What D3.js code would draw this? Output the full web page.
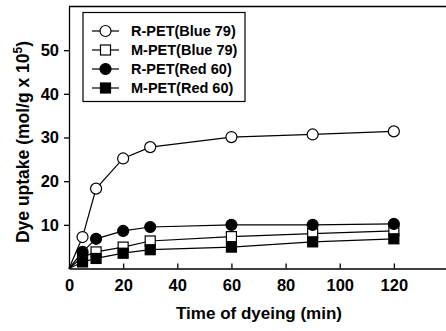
<!DOCTYPE html>
<html><head><meta charset="utf-8">
<script src="https://cdn.jsdelivr.net/npm/d3@7"></script>
<style>body{margin:0;background:#fff}svg{display:block}</style>
</head><body>
<svg id="c" width="446" height="331"></svg>
<script>
const times = [0, 5, 10, 20, 30, 60, 90, 120];
const rPetBlue = [0, 7.2, 18.3, 25.2, 27.8, 30.1, 30.7, 31.4];
const mPetBlue = [0, 2.6, 3.8, 4.9, 6.3, 7.3, 8.0, 8.6];
const rPetRed  = [0, 3.8, 6.8, 8.6, 9.5, 10.0, 10.0, 10.2];
const mPetRed  = [0, 1.5, 2.3, 3.5, 4.3, 4.9, 6.1, 6.8];
const seriesNames = ["R-PET(Blue 79)", "M-PET(Blue 79)", "R-PET(Red 60)", "M-PET(Red 60)"];
const seriesShapes = ["circle", "square", "circle", "square"];
const seriesFilled = [false, false, true, true];
const xTicks = [0, 20, 40, 60, 80, 100, 120];
const yTicks = [10, 20, 30, 40, 50];

const series = [rPetBlue, mPetBlue, rPetRed, mPetRed];
const svg = d3.select("#c");
const L = 69, T = 6.5, B = 268.5, R = 448;
const x = d3.scaleLinear().domain([0, 140]).range([L, R]);
const y = d3.scaleLinear().domain([0, 60]).range([B, T]);
const font = "'Liberation Sans', Arial, sans-serif";

// frame
svg.append("line").attr("x1", L).attr("x2", R).attr("y1", T).attr("y2", T).attr("stroke", "#000").attr("stroke-width", 1.3);
// axes
const xAxis = d3.axisBottom(x).tickValues(xTicks).tickSizeInner(-5).tickSizeOuter(0).tickPadding(11);
const gx = svg.append("g").attr("transform", `translate(0,${B})`).call(xAxis);
const yAxis = d3.axisLeft(y).tickValues(yTicks).tickSizeInner(5).tickSizeOuter(0).tickPadding(5);
const gy = svg.append("g").attr("transform", `translate(${L},0)`).call(yAxis);
[gx, gy].forEach(g => {
  g.select(".domain").attr("stroke", "#000").attr("stroke-width", 1.3);
  g.selectAll(".tick line").attr("stroke", "#000").attr("stroke-width", 1.3);
  g.selectAll(".tick text").attr("fill", "#000").attr("font-family", font).attr("font-weight", "bold").attr("font-size", 16.5);
});
gx.selectAll(".tick").filter(d => d === 0).select("line").remove();

// axis titles
svg.append("text").attr("x", 259).attr("y", 319).attr("text-anchor", "middle")
  .attr("font-family", font).attr("font-weight", "bold").attr("font-size", 17).text("Time of dyeing (min)");
const yt = svg.append("text").attr("transform", "translate(29,142) rotate(-90)").attr("text-anchor", "middle")
  .attr("font-family", font).attr("font-weight", "bold").attr("font-size", 17.5);
yt.append("tspan").text("Dye uptake (mol/g x 10");
yt.append("tspan").attr("dy", -7).attr("font-size", 12).text("5");
yt.append("tspan").attr("dy", 7).text(")");

// lines
const line = d3.line().x((d, i) => x(times[i])).y(d => y(d));
series.forEach(s => {
  svg.append("path").datum(s).attr("d", line).attr("fill", "none").attr("stroke", "#000").attr("stroke-width", 1.2);
});

function marker(g, shape, filled, cx, cy) {
  if (shape === "circle") {
    g.append("circle").attr("cx", cx).attr("cy", cy).attr("r", 5.5)
      .attr("fill", filled ? "#000" : "#fff").attr("stroke", "#000").attr("stroke-width", 1.2);
  } else {
    g.append("rect").attr("x", cx - 5).attr("y", cy - 5).attr("width", 10).attr("height", 10)
      .attr("fill", filled ? "#000" : "#fff").attr("stroke", "#000").attr("stroke-width", 1.2);
  }
}
// markers
series.forEach((s, k) => {
  const g = svg.append("g");
  s.forEach((v, i) => { if (times[i] > 0) marker(g, seriesShapes[k], seriesFilled[k], x(times[i]), y(v)); });
});

// legend
const lg = svg.append("g");
lg.append("rect").attr("x", 83).attr("y", 12.5).attr("width", 162).attr("height", 89)
  .attr("fill", "#fff").attr("stroke", "#000").attr("stroke-width", 1.2);
seriesNames.forEach((n, k) => {
  const cy = 31 + k * 19;
  lg.append("line").attr("x1", 92).attr("x2", 119).attr("y1", cy).attr("y2", cy).attr("stroke", "#000").attr("stroke-width", 1.2);
  marker(lg, seriesShapes[k], seriesFilled[k], 105.5, cy);
  lg.append("text").attr("x", 131).attr("y", cy + 5).attr("font-family", font).attr("font-weight", "bold")
    .attr("font-size", 14.5).text(n);
});
</script>
</body></html>
